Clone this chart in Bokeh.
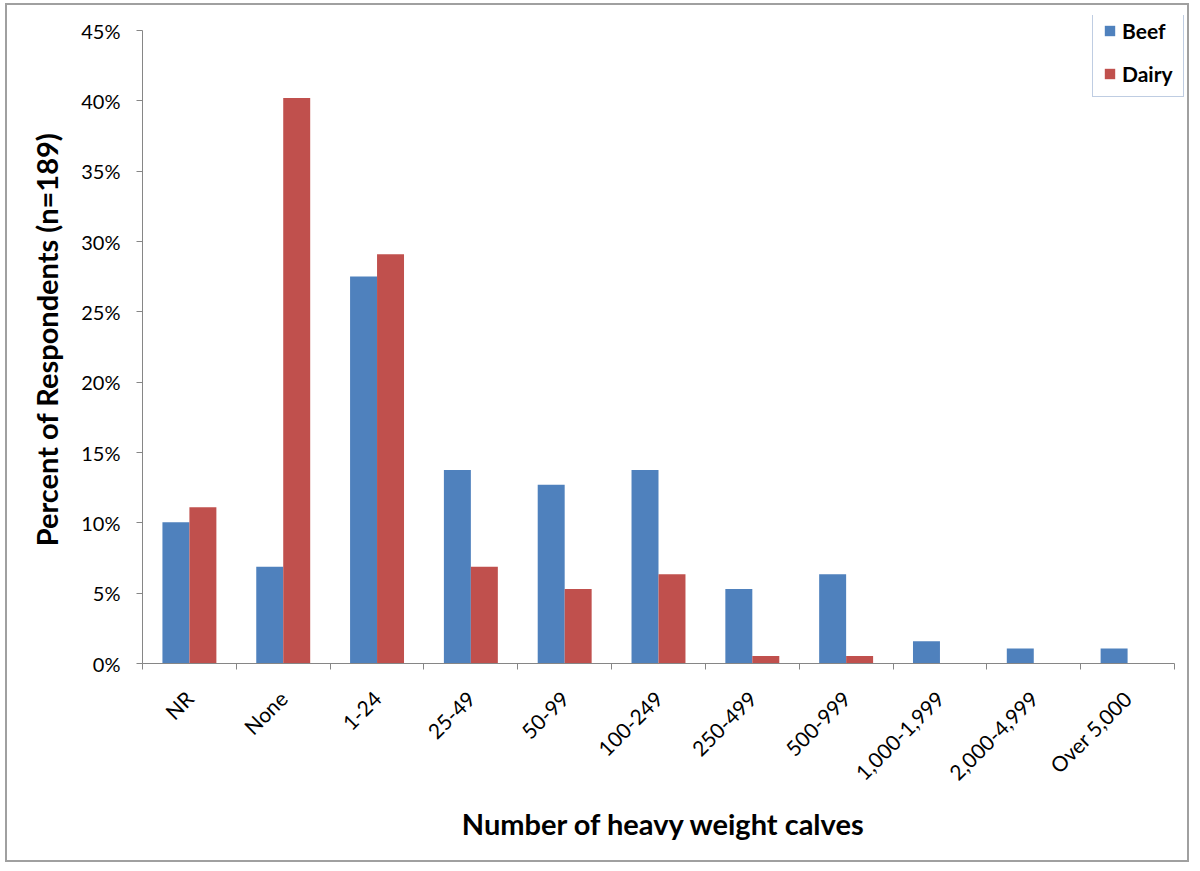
from bokeh.plotting import figure
from bokeh.models import Range1d, FixedTicker, NumeralTickFormatter, Legend, LegendItem, ColumnDataSource
from bokeh.embed import file_html
from bokeh.resources import INLINE

categories = ["NR", "None", "1-24", "25-49", "50-99", "100-249", "250-499",
              "500-999", "1,000-1,999", "2,000-4,999", "Over 5,000"]
beef = [0.1005, 0.0688, 0.2751, 0.1376, 0.1270, 0.1376, 0.0529, 0.0635, 0.0159, 0.0106, 0.0106]
dairy = [0.1111, 0.4021, 0.2910, 0.0688, 0.0529, 0.0635, 0.0053, 0.0053, 0.0, 0.0, 0.0]
y_ticks = [0, 0.05, 0.10, 0.15, 0.20, 0.25, 0.30, 0.35, 0.40, 0.45]

FONT = "Lato"
BEEF_COLOR = "#4F81BD"
DAIRY_COLOR = "#C0504D"
AXIS_COLOR = "#868686"

n = len(categories)
y_max = y_ticks[-1]
centers = [i + 0.5 for i in range(n)]
bw = 0.2875
src = ColumnDataSource(dict(
    xb=[c - bw / 2 for c in centers],
    xd=[c + bw / 2 for c in centers],
    beef=beef, dairy=dairy))

# frame extends slightly above 45% and right of the last slot so the legend fits inside it
p = figure(width=1184, height=859, output_backend="svg", toolbar_location=None,
           x_range=Range1d(0, n * 1043 / 1032), y_range=Range1d(0, y_max * 648 / 633),
           min_border_left=135, min_border_top=10, min_border_right=6, min_border_bottom=201,
           styles={"border": "2px solid #a0a0a0", "margin-left": "5px", "margin-top": "3px"})
p.outline_line_color = None
p.xgrid.visible = False
p.ygrid.visible = False

rb = p.vbar(x="xb", top="beef", width=bw, source=src, fill_color=BEEF_COLOR, line_color=None)
rd = p.vbar(x="xd", top="dairy", width=bw, source=src, fill_color=DAIRY_COLOR, line_color=None)

# y axis
p.yaxis.bounds = (0, y_max)
p.yaxis.ticker = FixedTicker(ticks=y_ticks)
p.yaxis.formatter = NumeralTickFormatter(format="0%")
p.yaxis.axis_line_color = AXIS_COLOR
p.yaxis.major_tick_line_color = AXIS_COLOR
p.yaxis.major_tick_in = 0
p.yaxis.major_tick_out = 6
p.yaxis.minor_tick_line_color = None
p.yaxis.major_label_text_font = FONT
p.yaxis.major_label_text_font_size = "20px"
p.yaxis.major_label_text_color = "black"
p.yaxis.major_label_standoff = 16
p.yaxis.axis_label = "Percent of Respondents (n=189)"
p.yaxis.axis_label_text_font = FONT
p.yaxis.axis_label_text_font_style = "bold"
p.yaxis.axis_label_text_font_size = "29px"
p.yaxis.axis_label_text_color = "black"
p.yaxis.axis_label_standoff = 14

# x axis
p.xaxis.bounds = (0, n)
p.xaxis.ticker = FixedTicker(ticks=centers, minor_ticks=list(range(n + 1)))
p.xaxis.major_label_overrides = {c: lab for c, lab in zip(centers, categories)}
p.xaxis.axis_line_color = AXIS_COLOR
p.xaxis.major_tick_line_color = None
p.xaxis.major_tick_in = 0
p.xaxis.major_tick_out = 6
p.xaxis.minor_tick_line_color = AXIS_COLOR
p.xaxis.minor_tick_in = 0
p.xaxis.minor_tick_out = 6
p.xaxis.major_label_orientation = 0.785398
p.xaxis.major_label_text_font = FONT
p.xaxis.major_label_text_font_size = "21px"
p.xaxis.major_label_text_color = "black"
p.xaxis.major_label_standoff = 25
p.xaxis.axis_label = "Number of heavy weight calves"
p.xaxis.axis_label_text_font = FONT
p.xaxis.axis_label_text_font_style = "bold"
p.xaxis.axis_label_text_font_size = "29px"
p.xaxis.axis_label_text_color = "black"
p.xaxis.axis_label_standoff = 10

legend = Legend(items=[LegendItem(label="Beef", renderers=[rb]),
                       LegendItem(label="Dairy", renderers=[rd])],
                location=(950, 566), margin=0, padding=10, spacing=18,
                glyph_width=13, glyph_height=13, label_height=20, label_standoff=6,
                label_text_font=FONT, label_text_font_style="bold",
                label_text_font_size="21px", label_text_color="black",
                border_line_color="#7f9cc6", border_line_width=1,
                background_fill_color="white", background_fill_alpha=1)
p.add_layout(legend)

open("out.html", "w").write(file_html(p, INLINE))
